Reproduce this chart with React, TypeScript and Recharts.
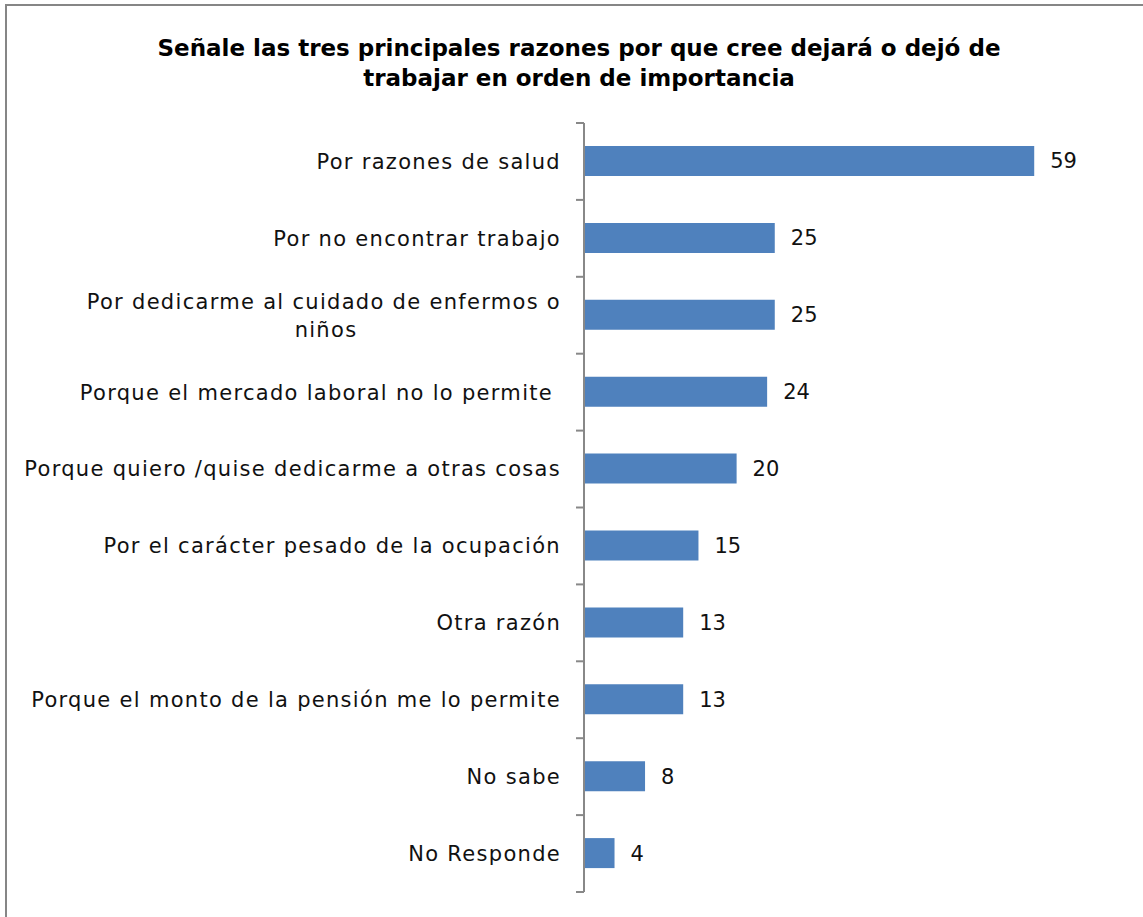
import React from "react";
import { BarChart, Bar, XAxis, YAxis, LabelList } from "recharts";

const categories = [
  "Por razones de salud",
  "Por no encontrar trabajo",
  "Por dedicarme al cuidado de enfermos o\nniños",
  "Porque el mercado laboral no lo permite ",
  "Porque quiero /quise dedicarme a otras cosas",
  "Por el carácter pesado de la ocupación",
  "Otra razón",
  "Porque el monto de la pensión me lo permite",
  "No sabe",
  "No Responde",
];
const values = [59, 25, 25, 24, 20, 15, 13, 13, 8, 4];
const titleLines = [
  "Señale las tres principales razones por que cree dejará o dejó de",
  "trabajar en orden de importancia",
];

const data = categories.map((name, i) => ({ name, value: values[i] }));

const W = 1143;
const H = 917;
const M = { top: 123, right: 63, bottom: 25, left: 0 };
const AXIS_W = 584;
const BAND = (H - M.top - M.bottom) / categories.length;
const FONT = "'DejaVu Sans', sans-serif";

const Tick = (props: any) => {
  const { y, payload, index } = props;
  const lines: string[] = String(payload.value).split("\n");
  const tx = AXIS_W - 23;
  const lh = 28;
  const y0 = y - ((lines.length - 1) * lh) / 2;
  return (
    <g>
      <line x1={AXIS_W - 8} x2={AXIS_W} y1={y - BAND / 2} y2={y - BAND / 2} stroke="#888" strokeWidth={2} />
      {index === categories.length - 1 && (
        <line x1={AXIS_W - 8} x2={AXIS_W} y1={y + BAND / 2} y2={y + BAND / 2} stroke="#888" strokeWidth={2} />
      )}
      {lines.map((l, i) =>
        i === 0 ? (
          <text key={i} x={tx} y={y0} dy="0.35em" textAnchor="end" fontSize={21} letterSpacing={1.3} fontFamily={FONT} fill="#111" style={{ whiteSpace: "pre" }}>
            {l}
          </text>
        ) : (
          <text key={i} x={tx - 235} y={y0 + i * lh} dy="0.35em" textAnchor="middle" fontSize={21} letterSpacing={1.3} fontFamily={FONT} fill="#111">
            {l}
          </text>
        )
      )}
    </g>
  );
};

export default function App() {
  return (
    <div style={{ position: "absolute", left: 0, top: 0, width: W, height: H, background: "#fff", overflow: "hidden" }}>
      <div style={{ position: "absolute", left: 5, top: 4, width: W, height: H, borderTop: "2px solid #868686", borderLeft: "2px solid #868686" }} />
      <BarChart width={W} height={H} data={data} layout="vertical" margin={M} style={{ position: "absolute", left: 0, top: 0 }}>
        <text x={579} y={56} textAnchor="middle" fontSize={23} fontWeight="bold" fontFamily={FONT} fill="#000">
          {titleLines[0]}
        </text>
        <text x={579} y={86} textAnchor="middle" fontSize={23} fontWeight="bold" fontFamily={FONT} fill="#000">
          {titleLines[1]}
        </text>
        <XAxis type="number" hide domain={[0, 65]} />
        <YAxis type="category" dataKey="name" width={AXIS_W} axisLine={{ stroke: "#888", strokeWidth: 2 }} tickLine={false} tick={<Tick />} interval={0} />
        <Bar dataKey="value" fill="#4F81BD" barSize={30} isAnimationActive={false}>
          <LabelList dataKey="value" position="right" offset={16} fontSize={21} fontFamily={FONT} fill="#111" />
        </Bar>
      </BarChart>
    </div>
  );
}
